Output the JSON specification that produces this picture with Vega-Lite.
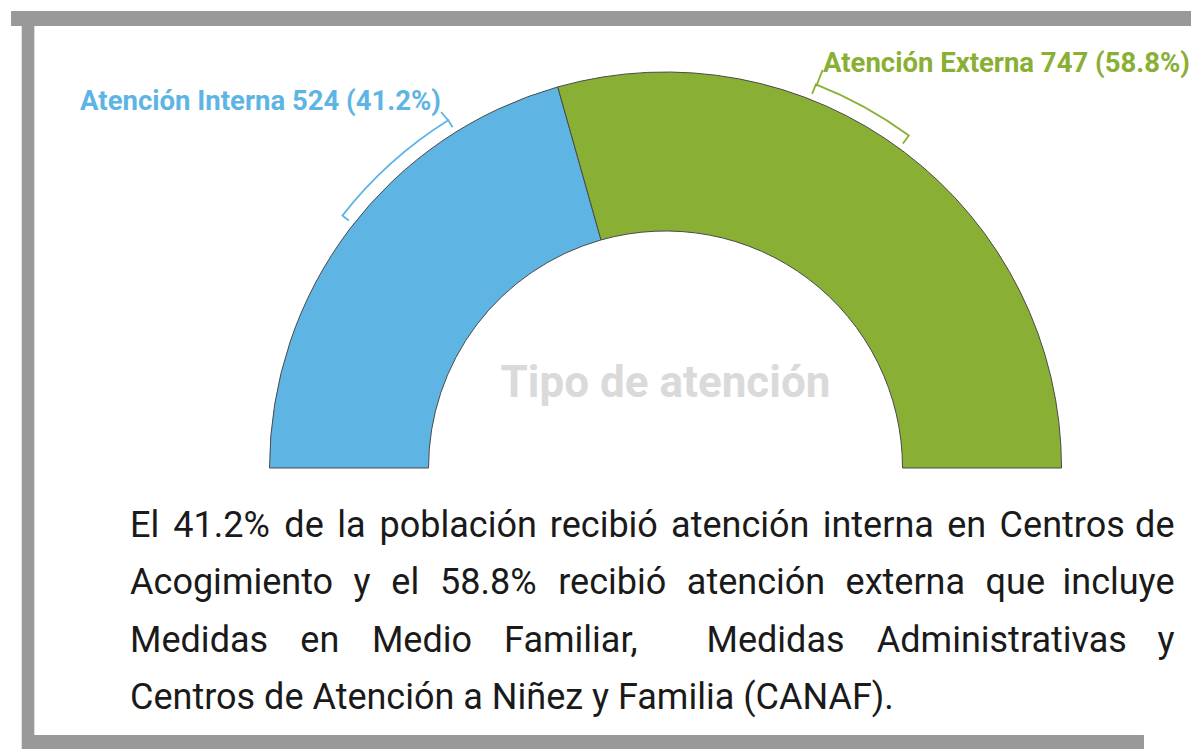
{
  "$schema": "https://vega.github.io/schema/vega-lite/v6.json",
  "width": 1191,
  "height": 749,
  "autosize": {"type": "none"},
  "padding": 0,
  "background": "white",
  "config": {"view": {"stroke": null}, "font": "Roboto", "axis": {"disable": true}},
  "datasets": {
    "tipos": [
      {"tipo": "Atención Interna", "casos": 524, "orden": 1, "etiqueta": "Atención Interna 524 (41.2%)", "lx": -0.5734, "ly": 0.9144},
      {"tipo": "Atención Externa", "casos": 747, "orden": 2, "etiqueta": "Atención Externa 747 (58.8%)", "lx": 0.4023, "ly": 1.0115}
    ],
    "palabras": [
      {"p": "El", "x": -1.3678, "y": -0.1762},
      {"p": "41.2%", "x": -1.2575, "y": -0.1762},
      {"p": "de", "x": -0.9737, "y": -0.1762},
      {"p": "la", "x": -0.8388, "y": -0.1762},
      {"p": "población", "x": -0.7305, "y": -0.1762},
      {"p": "recibió", "x": -0.2955, "y": -0.1762},
      {"p": "atención", "x": 0.0143, "y": -0.1762},
      {"p": "interna", "x": 0.4015, "y": -0.1762},
      {"p": "en", "x": 0.7195, "y": -0.1762},
      {"p": "Centros", "x": 0.8534, "y": -0.1762},
      {"p": "Acogimiento", "x": -1.3678, "y": -0.3218},
      {"p": "y", "x": -0.7972, "y": -0.3218},
      {"p": "el", "x": -0.7004, "y": -0.3218},
      {"p": "58.8%", "x": -0.5762, "y": -0.3218},
      {"p": "recibió", "x": -0.2741, "y": -0.3218},
      {"p": "atención", "x": 0.0544, "y": -0.3218},
      {"p": "externa", "x": 0.46, "y": -0.3218},
      {"p": "que", "x": 0.8176, "y": -0.3218},
      {"p": "Medidas", "x": -1.3678, "y": -0.47},
      {"p": "en", "x": -0.9328, "y": -0.47},
      {"p": "Medio", "x": -0.7499, "y": -0.47},
      {"p": "Familiar,", "x": -0.4123, "y": -0.47},
      {"p": "Medidas", "x": 0.1047, "y": -0.47},
      {"p": "Administrativas", "x": 0.5397, "y": -0.47},
      {"p": "Centros de Atención a Niñez y Familia (CANAF).", "x": -1.3678, "y": -0.6156}
    ],
    "ultimas": [
      {"p": "de", "x": 1.3001, "y": -0.1762},
      {"p": "incluye", "x": 1.3001, "y": -0.3218},
      {"p": "y", "x": 1.3001, "y": -0.47}
    ],
    "uno": [{}]
  },
  "layer": [
    {
      "data": {"name": "uno"},
      "mark": {"type": "rule", "color": "#999999", "strokeWidth": 15},
      "encoding": {
        "x": {"datum": -1.6718, "scale": {"type": "linear", "domain": [-1.7, 1.3423], "nice": false, "zero": false}},
        "x2": {"datum": 1.3423},
        "y": {"datum": 1.148, "scale": {"type": "linear", "domain": [-0.7178, 1.1954], "nice": false, "zero": false}}
      }
    },
    {
      "data": {"name": "uno"},
      "mark": {"type": "rule", "color": "#999999", "strokeWidth": 12.6},
      "encoding": {
        "x": {"datum": -1.6284, "scale": {"type": "linear", "domain": [-1.7, 1.3423], "nice": false, "zero": false}},
        "y": {"datum": 1.129, "scale": {"type": "linear", "domain": [-0.7178, 1.1954], "nice": false, "zero": false}},
        "y2": {"datum": -0.7178}
      }
    },
    {
      "data": {"name": "uno"},
      "mark": {"type": "rule", "color": "#999999", "strokeWidth": 14},
      "encoding": {
        "x": {"datum": -1.6437, "scale": {"type": "linear", "domain": [-1.7, 1.3423], "nice": false, "zero": false}},
        "x2": {"datum": 1.2222},
        "y": {"datum": -0.6999, "scale": {"type": "linear", "domain": [-0.7178, 1.1954], "nice": false, "zero": false}}
      }
    },
    {
      "data": {"name": "uno"},
      "mark": {"type": "arc", "theta": -0.9076, "theta2": -0.5585, "radius": 410, "radius2": 390, "fill": "transparent", "stroke": "#5eb5e4", "strokeWidth": 1.8},
      "encoding": {
        "x": {"datum": 0, "scale": {"type": "linear", "domain": [-1.7, 1.3423], "nice": false, "zero": false}},
        "y": {"datum": 0, "scale": {"type": "linear", "domain": [-0.7178, 1.1954], "nice": false, "zero": false}}
      }
    },
    {
      "data": {"name": "uno"},
      "mark": {"type": "arc", "theta": 0.3735, "theta2": 0.6318, "radius": 412, "radius2": 390, "fill": "transparent", "stroke": "#8aaf35", "strokeWidth": 1.8},
      "encoding": {
        "x": {"datum": 0, "scale": {"type": "linear", "domain": [-1.7, 1.3423], "nice": false, "zero": false}},
        "y": {"datum": 0, "scale": {"type": "linear", "domain": [-0.7178, 1.1954], "nice": false, "zero": false}}
      }
    },
    {
      "data": {"name": "uno"},
      "mark": {"type": "arc", "theta": -1.5708, "theta2": 1.5708, "radius": 402, "radius2": 396.5, "fill": "white", "stroke": null},
      "encoding": {
        "x": {"datum": 0, "scale": {"type": "linear", "domain": [-1.7, 1.3423], "nice": false, "zero": false}},
        "y": {"datum": 0, "scale": {"type": "linear", "domain": [-0.7178, 1.1954], "nice": false, "zero": false}}
      }
    },
    {
      "data": {"name": "tipos"},
      "mark": {"type": "arc", "radius": 396, "radius2": 237, "stroke": "#4a4a4a", "strokeWidth": 1},
      "encoding": {
        "x": {"datum": 0, "scale": {"type": "linear", "domain": [-1.7, 1.3423], "nice": false, "zero": false}},
        "y": {"datum": 0, "scale": {"type": "linear", "domain": [-0.7178, 1.1954], "nice": false, "zero": false}},
        "theta": {"field": "casos", "type": "quantitative", "stack": true, "scale": {"range": [-1.5708, 1.5708]}},
        "order": {"field": "orden", "type": "quantitative"},
        "color": {"field": "tipo", "type": "nominal", "legend": null, "scale": {"domain": ["Atención Interna", "Atención Externa"], "range": ["#5eb5e4", "#8aaf35"]}}
      }
    },
    {
      "data": {"name": "uno"},
      "mark": {"type": "text", "text": "Tipo de atención", "font": "Roboto", "fontSize": 44, "fontWeight": "bold", "color": "#dadada", "align": "center", "baseline": "alphabetic"},
      "encoding": {
        "x": {"datum": 0, "scale": {"type": "linear", "domain": [-1.7, 1.3423], "nice": false, "zero": false}},
        "y": {"datum": 0.1814, "scale": {"type": "linear", "domain": [-0.7178, 1.1954], "nice": false, "zero": false}}
      }
    },
    {
      "data": {"name": "tipos"},
      "transform": [{"filter": "datum.orden == 1"}],
      "mark": {"type": "text", "font": "Roboto", "fontSize": 27.5, "fontWeight": "bold", "align": "right", "baseline": "alphabetic", "color": "#5eb5e4"},
      "encoding": {
        "x": {"field": "lx", "type": "quantitative", "scale": {"type": "linear", "domain": [-1.7, 1.3423], "nice": false, "zero": false}},
        "y": {"field": "ly", "type": "quantitative", "scale": {"type": "linear", "domain": [-0.7178, 1.1954], "nice": false, "zero": false}},
        "text": {"field": "etiqueta"}
      }
    },
    {
      "data": {"name": "tipos"},
      "transform": [{"filter": "datum.orden == 2"}],
      "mark": {"type": "text", "font": "Roboto", "fontSize": 27.5, "fontWeight": "bold", "align": "left", "baseline": "alphabetic", "color": "#8aaf35"},
      "encoding": {
        "x": {"field": "lx", "type": "quantitative", "scale": {"type": "linear", "domain": [-1.7, 1.3423], "nice": false, "zero": false}},
        "y": {"field": "ly", "type": "quantitative", "scale": {"type": "linear", "domain": [-0.7178, 1.1954], "nice": false, "zero": false}},
        "text": {"field": "etiqueta"}
      }
    },
    {
      "data": {"name": "uno"},
      "mark": {"type": "rule", "color": "#5eb5e4", "strokeWidth": 1.8},
      "encoding": {
        "x": {"datum": -0.5734, "scale": {"type": "linear", "domain": [-1.7, 1.3423], "nice": false, "zero": false}},
        "x2": {"datum": -0.555},
        "y": {"datum": 0.9093, "scale": {"type": "linear", "domain": [-0.7178, 1.1954], "nice": false, "zero": false}},
        "y2": {"datum": 0.8881}
      }
    },
    {
      "data": {"name": "uno"},
      "mark": {"type": "rule", "color": "#8aaf35", "strokeWidth": 1.8},
      "encoding": {
        "x": {"datum": 0.401, "scale": {"type": "linear", "domain": [-1.7, 1.3423], "nice": false, "zero": false}},
        "x2": {"datum": 0.3851},
        "y": {"datum": 1.0166, "scale": {"type": "linear", "domain": [-0.7178, 1.1954], "nice": false, "zero": false}},
        "y2": {"datum": 0.9747}
      }
    },
    {
      "data": {"name": "palabras"},
      "mark": {"type": "text", "font": "Roboto", "fontSize": 36, "align": "left", "baseline": "alphabetic", "color": "#1a1a1a"},
      "encoding": {
        "x": {"field": "x", "type": "quantitative", "scale": {"type": "linear", "domain": [-1.7, 1.3423], "nice": false, "zero": false}},
        "y": {"field": "y", "type": "quantitative", "scale": {"type": "linear", "domain": [-0.7178, 1.1954], "nice": false, "zero": false}},
        "text": {"field": "p"}
      }
    },
    {
      "data": {"name": "ultimas"},
      "mark": {"type": "text", "font": "Roboto", "fontSize": 36, "align": "right", "baseline": "alphabetic", "color": "#1a1a1a"},
      "encoding": {
        "x": {"field": "x", "type": "quantitative", "scale": {"type": "linear", "domain": [-1.7, 1.3423], "nice": false, "zero": false}},
        "y": {"field": "y", "type": "quantitative", "scale": {"type": "linear", "domain": [-0.7178, 1.1954], "nice": false, "zero": false}},
        "text": {"field": "p"}
      }
    }
  ]
}
